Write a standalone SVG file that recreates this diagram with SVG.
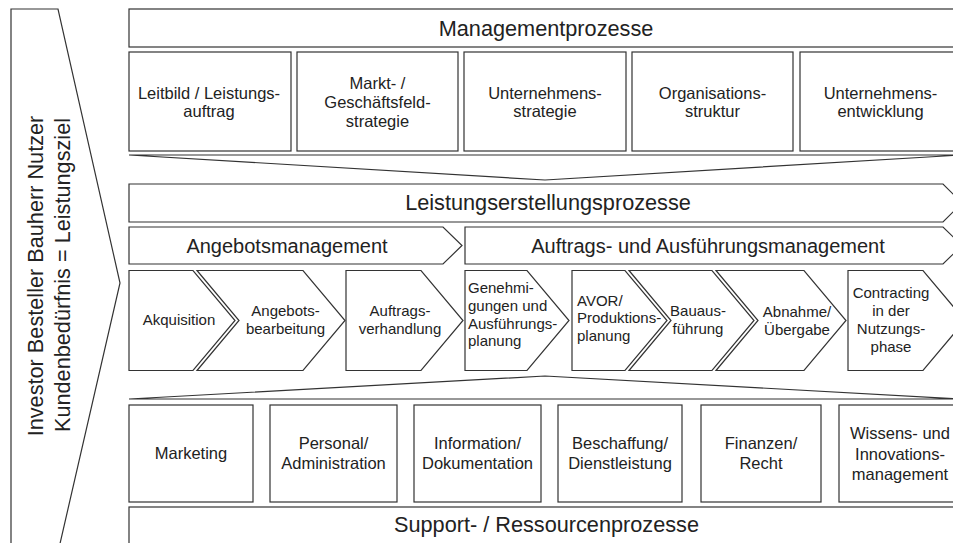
<svg xmlns="http://www.w3.org/2000/svg" width="953" height="543" viewBox="0 0 953 543">
<style>
.s{fill:#fff;stroke:#333;stroke-width:1.2}
.f{fill:none;stroke:#333;stroke-width:1.2;stroke-linejoin:miter}
text{font-family:"Liberation Sans",Arial,sans-serif;fill:#222}
.big{font-size:21.7px;text-anchor:middle}
.mid{font-size:20px;text-anchor:middle}
.box{font-size:16.5px;text-anchor:middle}
.chv{font-size:15px;text-anchor:middle}
.chl{font-size:15px;text-anchor:start}
</style>
<rect width="953" height="543" fill="#fff"/>

<g id="kunde">
<polygon class="s" points="11,9 58,9 120,283 59,548 11,548"/>
<text class="big" transform="translate(43.3,276) rotate(-90)">Investor Besteller Bauherr Nutzer</text>
<text class="big" transform="translate(70,275) rotate(-90)">Kundenbedürfnis = Leistungsziel</text>
</g>

<g id="managementprozesse">
<rect class="s" x="129" y="9" width="840" height="38"/>
<text class="big" x="546" y="35.5">Managementprozesse</text>
</g>
<g id="leitbild">
<rect class="s" x="129" y="52" width="162" height="99"/>
<text class="box" x="209" y="98.7">Leitbild / Leistungs-</text>
<text class="box" x="209" y="117.2">auftrag</text>
</g>
<g id="markt">
<rect class="s" x="297" y="52" width="161" height="99"/>
<text class="box" x="377.5" y="89">Markt- /</text>
<text class="box" x="377.5" y="108">Geschäftsfeld-</text>
<text class="box" x="377.5" y="127">strategie</text>
</g>
<g id="unternehmensstrategie">
<rect class="s" x="464" y="52" width="162" height="99"/>
<text class="box" x="545" y="98.7">Unternehmens-</text>
<text class="box" x="545" y="117.2">strategie</text>
</g>
<g id="organisationsstruktur">
<rect class="s" x="632" y="52" width="161" height="99"/>
<text class="box" x="712.5" y="98.7">Organisations-</text>
<text class="box" x="712.5" y="117.2">struktur</text>
</g>
<g id="unternehmensentwicklung">
<rect class="s" x="800" y="52" width="161" height="99"/>
<text class="box" x="880.5" y="98.7">Unternehmens-</text>
<text class="box" x="880.5" y="117.2">entwicklung</text>
</g>

<g id="connectors">
<polygon class="f" points="129,155 961,155 545,180"/>
<polygon class="f" points="129,399 961,399 545,376"/>
</g>

<g id="leistungserstellungsprozesse">
<polygon class="s" points="129,184 943,184 962,203 943,222 129,222"/>
<text class="big" x="548" y="210">Leistungserstellungsprozesse</text>
</g>
<g id="angebotsmanagement">
<polygon class="s" points="129,227 443,227 462,245.5 443,264 129,264"/>
<text class="mid" x="287" y="252.5">Angebotsmanagement</text>
</g>
<g id="auftragsmanagement">
<polygon class="s" points="465,227 943,227 962,245.5 943,264 465,264"/>
<text class="mid" x="708" y="252.5">Auftrags- und Ausführungsmanagement</text>
</g>

<g id="akquisition">
<polygon class="s" points="129,270.5 193,270.5 235,320.5 193,370.5 129,370.5"/>
<text class="chv" x="179" y="325">Akquisition</text>
</g>
<g id="angebotsbearbeitung">
<polygon class="s" points="197,270.5 303,270.5 345,320.5 303,370.5 197,370.5 239,320.5"/>
<text class="chv" x="285.5" y="316">Angebots-</text>
<text class="chv" x="285.5" y="334">bearbeitung</text>
</g>
<g id="auftragsverhandlung">
<polygon class="s" points="346,270.5 421,270.5 463,320.5 421,370.5 346,370.5"/>
<text class="chv" x="400" y="316">Auftrags-</text>
<text class="chv" x="400" y="334">verhandlung</text>
</g>
<g id="genehmigungen">
<polygon class="s" points="465,270.5 527,270.5 569,320.5 527,370.5 465,370.5"/>
<text class="chl" x="468" y="293">Genehmi-</text>
<text class="chl" x="468" y="311">gungen und</text>
<text class="chl" x="468" y="328.5">Ausführungs-</text>
<text class="chl" x="468" y="346">planung</text>
</g>
<g id="avor">
<polygon class="s" points="572,270.5 625,270.5 667,320.5 625,370.5 572,370.5"/>
<text class="chl" x="577" y="305.5">AVOR/</text>
<text class="chl" x="577" y="323">Produktions-</text>
<text class="chl" x="577" y="340.5">planung</text>
</g>
<g id="bauausfuehrung">
<polygon class="s" points="629,270.5 712,270.5 754,320.5 712,370.5 629,370.5 671,320.5"/>
<text class="chv" x="698" y="315.5">Bauaus-</text>
<text class="chv" x="698" y="334">führung</text>
</g>
<g id="abnahme">
<polygon class="s" points="716,270.5 804,270.5 846,320.5 804,370.5 716,370.5 758,320.5"/>
<text class="chv" x="797" y="316.5">Abnahme/</text>
<text class="chv" x="797" y="335">Übergabe</text>
</g>
<g id="contracting">
<polygon class="s" points="848,270.5 923,270.5 965,320.5 923,370.5 848,370.5"/>
<text class="chv" x="891" y="298">Contracting</text>
<text class="chv" x="891" y="316">in der</text>
<text class="chv" x="891" y="334">Nutzungs-</text>
<text class="chv" x="891" y="352">phase</text>
</g>

<g id="marketing">
<rect class="s" x="129" y="405" width="124" height="97"/>
<text class="box" x="191" y="459">Marketing</text>
</g>
<g id="personal">
<rect class="s" x="270" y="405" width="127" height="97"/>
<text class="box" x="333.5" y="449">Personal/</text>
<text class="box" x="333.5" y="469">Administration</text>
</g>
<g id="information">
<rect class="s" x="414" y="405" width="127" height="97"/>
<text class="box" x="477.5" y="449">Information/</text>
<text class="box" x="477.5" y="469">Dokumentation</text>
</g>
<g id="beschaffung">
<rect class="s" x="558" y="405" width="124" height="97"/>
<text class="box" x="620" y="449">Beschaffung/</text>
<text class="box" x="620" y="469">Dienstleistung</text>
</g>
<g id="finanzen">
<rect class="s" x="701" y="405" width="120" height="97"/>
<text class="box" x="761" y="449">Finanzen/</text>
<text class="box" x="761" y="469">Recht</text>
</g>
<g id="wissen">
<rect class="s" x="839" y="405" width="122" height="97"/>
<text class="box" x="900" y="439">Wissens- und</text>
<text class="box" x="900" y="459.5">Innovations-</text>
<text class="box" x="900" y="480">management</text>
</g>
<g id="supportprozesse">
<rect class="s" x="129" y="507" width="840" height="50"/>
<text class="big" x="546.5" y="532">Support- / Ressourcenprozesse</text>
</g>
</svg>
